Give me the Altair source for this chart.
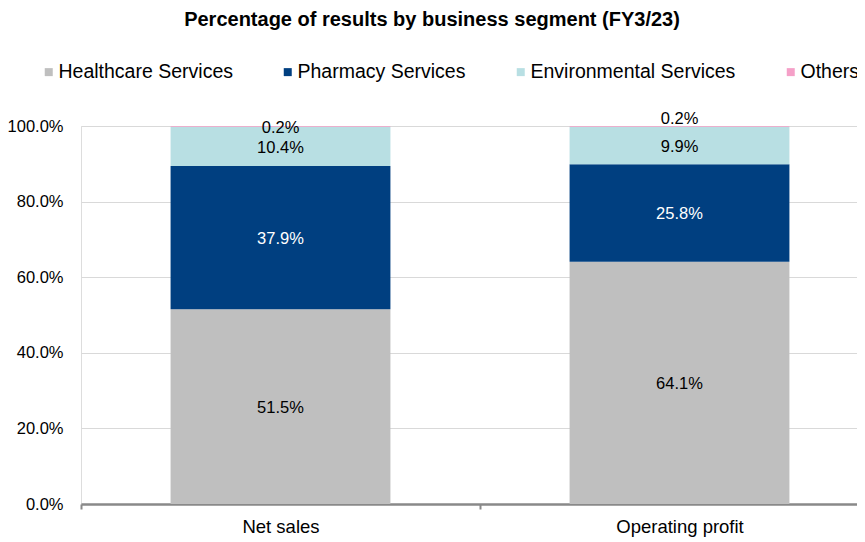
import altair as alt
import pandas as pd

metrics = ["Net sales", "Operating profit"]
segments = ["Healthcare Services", "Pharmacy Services", "Environmental Services", "Others"]
net_sales = [51.5, 37.9, 10.4, 0.2]
operating_profit = [64.1, 25.8, 9.9, 0.2]
seg_colors = ["#BFBFBF", "#003F80", "#B8DFE3", "#F5A0C8"]
label_colors = ["#000000", "#FFFFFF", "#000000", "#000000"]

rows = []
for m, vals in zip(metrics, [net_sales, operating_profit]):
    for i, (s, v) in enumerate(zip(segments, vals)):
        rows.append({"metric": m, "segment": s, "idx": i, "value": v / 100.0,
                     "pct": v, "lc": label_colors[i]})
df = pd.DataFrame(rows)

REG = "Liberation Sans, Arial, sans-serif"

base = alt.Chart(df).transform_stack(
    stack="value", groupby=["metric"], as_=["v0", "v1"],
    sort=[alt.SortField("idx", order="ascending")]
).transform_calculate(
    mid="(datum.v0 + datum.v1) / 2",
    label="format(datum.pct, '.1f') + '%'"
)

x_enc = alt.X("metric:N", sort=metrics, title=None,
              scale=alt.Scale(paddingInner=0.449, paddingOuter=0.2245, range=[0, 798]),
              axis=alt.Axis(labelAngle=0, domainColor="#898989", domainWidth=2.5,
                            ticks=True, tickColor="#898989", tickWidth=2, tickSize=5,
                            tickOffset=-199.5, labelOffset=199.5,
                            labelFont=REG, labelFontSize=18.5,
                            labelColor="#000000", labelPadding=8, grid=False))

bars = base.mark_bar().encode(
    x=x_enc,
    y=alt.Y("v0:Q", title=None,
            scale=alt.Scale(domain=[0, 1], nice=False),
            axis=alt.Axis(format=".1%", values=[0, 0.2, 0.4, 0.6, 0.8, 1.0],
                          domain=False, ticks=False, gridColor="#D9D9D9", gridWidth=1,
                          labelFont=REG, labelFontSize=16.5, labelColor="#000000",
                          labelPadding=18, minExtent=68, maxExtent=68)),
    y2="v1:Q",
    color=alt.Color("segment:N", sort=segments,
                    scale=alt.Scale(domain=segments, range=seg_colors),
                    legend=alt.Legend(title=None, orient="none", legendX=-42, legendY=-64,
                                      direction="horizontal", columns=4,
                                      symbolType="square", symbolSize=64,
                                      symbolStrokeWidth=0, labelFont=REG,
                                      labelFontSize=19.5, labelColor="#000000",
                                      labelOffset=0, columnPadding=45, labelLimit=400,
                                      padding=0)),
    order=alt.Order("idx:Q"),
)

main_labels = base.transform_filter("datum.idx < 3").mark_text(
    font=REG, fontSize=16.5, dy=1.5
).encode(
    x=alt.X("metric:N", sort=metrics),
    y="mid:Q",
    text="label:N",
    color=alt.Color("lc:N", scale=None),
)

others_ns = base.transform_filter("datum.idx == 3 && datum.metric == 'Net sales'").mark_text(
    font=REG, fontSize=16.5, dy=2
).encode(x=alt.X("metric:N", sort=metrics), y="mid:Q", text="label:N",
         color=alt.Color("lc:N", scale=None))

others_op = base.transform_filter("datum.idx == 3 && datum.metric == 'Operating profit'").mark_text(
    font=REG, fontSize=16.5, dy=-7
).encode(x=alt.X("metric:N", sort=metrics), y="mid:Q", text="label:N",
         color=alt.Color("lc:N", scale=None))

chart = alt.layer(bars, main_labels, others_ns, others_op).properties(
    width=776, height=378,
    autosize=alt.AutoSizeParams(type="none"),
    padding={"left": 73, "top": 118, "right": 0, "bottom": 36},
    title=alt.TitleParams(
        "Percentage of results by business segment (FY3/23)",
        font=REG, fontSize=20, fontWeight="bold", color="#000000",
        anchor="middle", frame="group", dx=-37, offset=32),
).configure_view(stroke=None).configure(background="white")

chart.save("out.html", embed_options={"renderer": "svg", "actions": False})
